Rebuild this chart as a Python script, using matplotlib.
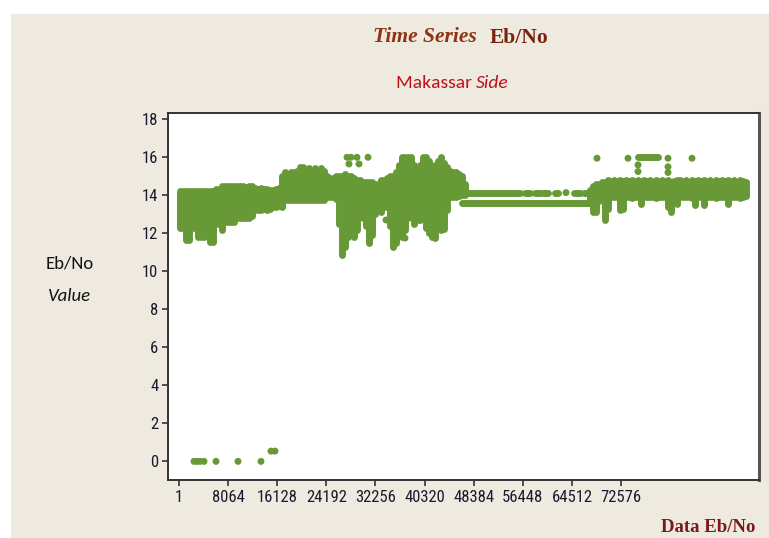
import matplotlib
matplotlib.use("Agg")
import logging
logging.getLogger("matplotlib.font_manager").setLevel(logging.ERROR)
import matplotlib.pyplot as plt
from matplotlib.patches import Rectangle

# ---------------- data (index, value) ----------------
# vertical streaks of overlapping dots: index, low value, high value
streak_idx = [165, 658, 1150, 1643, 2136, 2628, 3121, 3613, 4106, 4599, 5091, 5584,
              6077, 6569, 7062, 7554, 8047, 8539, 9032, 9525, 10017, 10510, 11002, 11495,
              11988, 12480, 12973, 13465, 13958, 14451, 14943, 15436, 15928, 16421, 16914,
              17406, 17899, 18391, 18884, 19377, 19869, 20362, 20854, 21347, 21840, 22332,
              22825, 23317, 23810, 24303, 24795, 25288, 25780, 26273, 26766, 27258, 27751,
              28243, 28736, 29229, 29721, 30214, 30706, 31199, 31692, 32184, 32677, 33169,
              33662, 34155, 34647, 35140, 35632, 36125, 36618, 37110, 37603, 38095, 38588,
              39081, 39573, 40066, 40558, 41051, 41544, 42036, 42529, 43021, 43514, 44007,
              44499, 44992, 45484, 45977, 46470, 46962,
              67490, 67980, 68470, 68970, 69460, 69950, 70440, 70940, 71430, 71920, 72420,
              72910, 73400, 73900, 74390, 74880, 75380, 75870, 76360, 76850, 77350, 77840,
              78330, 78830, 79320, 79810, 80310, 80800, 81290, 81790, 82280, 82770, 83260,
              83760, 84250, 84740, 85240, 85730, 86220, 86720, 87210, 87700, 88200, 88690,
              89180, 89680, 90170, 90660, 91160, 91650, 92140, 92640, 93130]
streak_lo = [12.3, 12.3, 11.65, 11.65, 12.3, 12.3, 11.8, 11.8, 11.8, 12.25, 11.55, 11.55,
             12.5, 12.5, 12.2, 12.6, 12.6, 12.6, 12.6, 12.8, 12.8, 12.8, 12.8, 12.8,
             12.9, 13.25, 13.25, 13.25, 13.3, 13.25, 13.3, 13.4, 13.4, 13.45, 13.4,
             13.75, 13.75, 13.75, 13.75, 13.75, 13.75, 13.75, 13.75, 13.75, 13.75, 13.75,
             13.75, 13.75, 13.75, 13.9, 13.9, 13.9, 13.8, 12.5, 10.86, 11.3, 11.8,
             12.0, 11.8, 12.2, 13.2, 12.8, 12.4, 11.5, 11.9, 13.0, 13.2, 13.1,
             13.4, 13.4, 12.4, 11.3, 11.5, 12.2, 11.8, 12.2, 12.8, 13.2, 12.5,
             12.7, 12.7, 13.0, 12.3, 12.0, 11.8, 11.75, 12.4, 12.2, 12.25, 13.2,
             13.9, 13.9, 13.9, 13.95, 14.0, 14.0,
             13.6, 13.1, 13.1, 13.7, 13.85, 12.7, 13.3, 13.9, 13.9, 13.9, 13.2,
             13.3, 13.9, 13.9, 13.85, 13.9, 13.9, 13.55, 13.9, 13.9, 13.9, 13.9,
             13.85, 13.9, 13.9, 13.9, 13.4, 13.1, 13.9, 13.55, 13.9, 13.9, 13.9,
             13.9, 13.85, 13.5, 13.9, 13.9, 13.5, 13.9, 13.9, 13.9, 13.85, 13.9,
             13.9, 13.9, 13.55, 13.9, 13.9, 13.9, 13.85, 13.9, 13.95]
streak_hi = [14.2, 14.2, 14.2, 14.2, 14.2, 14.2, 14.2, 14.2, 14.2, 14.2, 14.2, 14.2,
             14.35, 14.35, 14.5, 14.5, 14.5, 14.5, 14.5, 14.5, 14.5, 14.5, 14.45, 14.5,
             14.5, 14.4, 14.35, 14.4, 14.35, 14.35, 14.3, 14.3, 14.35, 14.4, 15.0,
             15.2, 15.1, 15.25, 15.2, 15.3, 15.5, 15.5, 15.4, 15.45, 15.3, 15.45,
             15.3, 15.45, 15.3, 15.0, 14.9, 14.9, 15.0, 15.0, 15.0, 15.1, 15.0,
             15.0, 14.9, 14.8, 14.8, 14.7, 14.7, 14.7, 14.7, 14.6, 14.6, 14.8,
             14.8, 14.9, 15.0, 15.0, 15.2, 15.6, 16.0, 16.0, 16.0, 16.0, 15.6,
             15.4, 15.6, 16.0, 16.0, 15.8, 15.5, 15.6, 15.8, 16.0, 15.7, 15.5,
             15.3, 15.2, 15.2, 15.1, 15.0, 14.6,
             14.3, 14.5, 14.6, 14.6, 14.7, 14.7, 14.8, 14.75, 14.8, 14.75, 14.8,
             14.75, 14.8, 14.75, 14.8, 14.75, 14.8, 14.75, 14.8, 14.75, 14.8, 14.7,
             14.8, 14.75, 14.8, 14.75, 14.8, 14.7, 14.75, 14.8, 14.8, 14.75, 14.8,
             14.7, 14.8, 14.75, 14.8, 14.75, 14.8, 14.75, 14.8, 14.7, 14.8, 14.75,
             14.8, 14.75, 14.8, 14.75, 14.8, 14.7, 14.8, 14.75, 14.7]

# horizontal runs of dots: start index, end index, value
run_start = [46470, 47290, 56810, 58460, 59770, 61740, 64860, 66510, 75370]
run_end = [67490, 55990, 57630, 59280, 60590, 62230, 65850, 67330, 78650]
run_value = [13.58, 14.14, 14.14, 14.14, 14.14, 14.14, 14.14, 14.14, 16.0]

# isolated dots
point_idx = [2464, 2957, 3449, 4106, 6076, 9689, 13466, 15108, 15765,
             27587, 27915, 28243, 29229, 29557, 31034, 33990, 37110, 39573,
             63546, 68637, 73727, 80295, 84236, 75368, 75368, 80295, 80295]
point_val = [0, 0, 0, 0, 0, 0, 0, 0.54, 0.54,
             16.0, 15.65, 16.0, 16.0, 15.65, 16.0, 12.7, 11.75, 15.1,
             14.14, 15.95, 15.95, 15.95, 15.95, 15.6, 15.25, 15.5, 15.2]

x_ticks = [1, 8064, 16128, 24192, 32256, 40320, 48384, 56448, 64512, 72576]
y_ticks = [0, 2, 4, 6, 8, 10, 12, 14, 16, 18]

# ---------------- figure ----------------
W, H, DPI = 769, 538, 100
fig = plt.figure(figsize=(W / DPI, H / DPI), dpi=DPI, facecolor="white")
bg = "#EEEAE0"
fig.patches.append(Rectangle((11 / W, 0), 1 - 11 / W, 1 - 14 / H, transform=fig.transFigure,
                             facecolor=bg, edgecolor="none", zorder=-10))

ax = fig.add_axes([168 / W, 1 - 480 / H, (759 - 168) / W, (480 - 113) / H], zorder=5)
ax.set_facecolor("white")
green = "#679A36"
lw = 5.0

ax.vlines(streak_idx, streak_lo, streak_hi, colors=green, linewidths=lw,
          capstyle="round", zorder=3)
ax.hlines(run_value, run_start, run_end, colors=green, linewidths=lw,
          capstyle="round", zorder=3)
ax.scatter(point_idx, point_val, s=lw ** 2, color=green, edgecolors="none", zorder=3)

ax.set_xlim(-1805, 95237)
ax.set_ylim(-0.98, 18.33)
ax.set_xticks(x_ticks)
ax.set_xticklabels([str(v) for v in x_ticks])
ax.set_yticks(y_ticks)
ax.set_yticklabels([str(v) for v in y_ticks])

tick_font = ["Roboto Condensed", "PT Sans Narrow", "Open Sans Condensed", "Arimo", "DejaVu Sans"]
ax.tick_params(axis="both", direction="out", length=4, width=1.2, color="#333333",
               labelsize=12, labelcolor="#1a1a2e", pad=3)
for lab in ax.get_xticklabels() + ax.get_yticklabels():
    lab.set_family(tick_font)
ax.tick_params(top=False, right=False)
for side in ["left", "bottom", "top", "right"]:
    ax.spines[side].set_color("#333333")
    ax.spines[side].set_linewidth(1.4)
ax.spines["right"].set_color("#555555")
ax.spines["right"].set_linewidth(2.2)

# titles
serif = ["Liberation Serif", "DejaVu Serif"]
title_col = "#8E3314"
fig.text(477 / W, 1 - 37 / H, "Time Series", ha="right", va="center",
         fontsize=15.5, fontstyle="italic", fontweight="bold",
         family=serif, color=title_col)
fig.text(490 / W, 1 - 38 / H, "Eb/No", ha="left", va="center",
         fontsize=15.5, fontweight="bold", family=serif, color="#7A2410")

cal = ["Carlito", "Lato", "DejaVu Sans"]
sub_col = "#C0101A"
fig.text(476 / W, 1 - 83 / H, "Makassar ", ha="right", va="center",
         fontsize=14, family=cal, color=sub_col)
fig.text(476 / W, 1 - 83 / H, "Side", ha="left", va="center",
         fontsize=14, fontstyle="italic", family=cal, color=sub_col)

fig.text(70 / W, 1 - 263 / H, "Eb/No", ha="center", va="center", fontsize=13.5,
         family=cal, color="#111111")
fig.text(70 / W, 1 - 296 / H, "Value", ha="center", va="center", fontsize=13.5,
         fontstyle="italic", family=cal, color="#111111")

fig.text(755 / W, 1 - 527 / H, "Data Eb/No", ha="right", va="center", fontsize=13.5,
         fontweight="bold", family=serif, color="#7B1A1A")

fig.savefig("out.png", dpi=DPI, facecolor=fig.get_facecolor())
